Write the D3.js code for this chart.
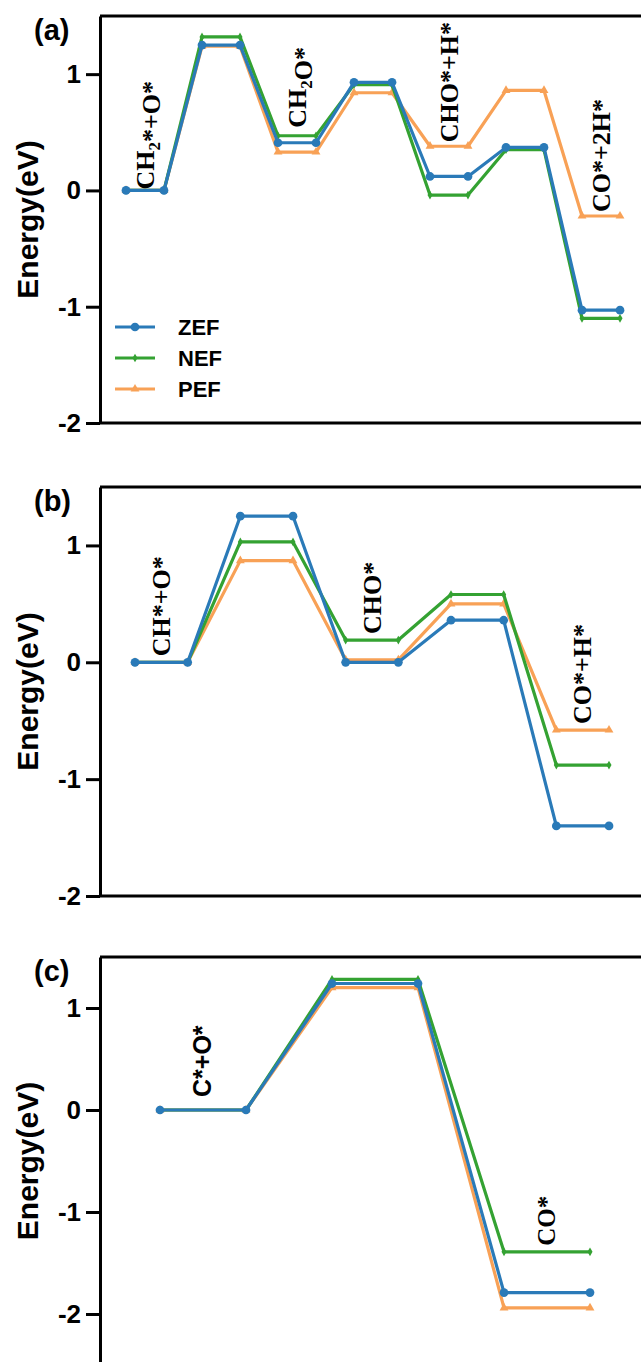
<!DOCTYPE html>
<html><head><meta charset="utf-8">
<script src="https://cdn.jsdelivr.net/npm/d3@7"></script>
<style>body{margin:0;background:#fff}svg{display:block}</style>
</head><body>
<svg id="chart" width="641" height="1362"></svg>
<script>
// ---------- data ----------
const seriesNames = ["ZEF", "NEF", "PEF"];
const yTicks = [-2, -1, 0, 1];
const panelTags = ["(a)", "(b)", "(c)"];

const stepsA = ["CH2*+O*", "", "CH2O*", "", "CHO*+H*", "", "CO*+2H*"];
const zefA = [0, 1.25, 0.41, 0.93, 0.12, 0.37, -1.03];
const nefA = [0, 1.32, 0.47, 0.91, -0.04, 0.35, -1.10];
const pefA = [0, 1.24, 0.33, 0.84, 0.38, 0.86, -0.22];

const stepsB = ["CH*+O*", "", "CHO*", "", "CO*+H*"];
const zefB = [0, 1.25, 0.00, 0.36, -1.40];
const nefB = [0, 1.03, 0.19, 0.58, -0.88];
const pefB = [0, 0.87, 0.02, 0.50, -0.58];

const stepsC = ["C*+O*", "", "CO*"];
const zefC = [0, 1.24, -1.79];
const nefC = [0, 1.28, -1.39];
const pefC = [0, 1.20, -1.94];

// ---------- style ----------
const colors = {ZEF: "#2a7ab8", NEF: "#34a232", PEF: "#f8a156"};
const symbols = {ZEF: d3.symbolCircle, NEF: d3.symbolDiamond, PEF: d3.symbolTriangle};
const symSize = {ZEF: 60, NEF: 22, PEF: 34};
const SANS = "'Liberation Sans', Arial, sans-serif";
const SERIF = "'Liberation Serif', 'Times New Roman', serif";

const svg = d3.select("#chart");

function addLabel(g, str, x, y, fontFam, size) {
  const t = g.append("text")
    .attr("transform", `translate(${x},${y}) rotate(-90)`)
    .attr("text-anchor", "start")
    .attr("font-family", fontFam)
    .attr("font-weight", "bold")
    .attr("font-size", size)
    .attr("fill", "#000");
  // digits directly after a letter are subscripts (CH2)
  let buf = "";
  const flush = () => { if (buf) { t.append("tspan").text(buf); buf = ""; } };
  for (let i = 0; i < str.length; i++) {
    const ch = str[i];
    if (/\d/.test(ch) && i > 0 && /[A-Za-z]/.test(str[i - 1])) {
      flush();
      t.append("tspan").attr("dy", size * 0.25).attr("font-size", size * 0.65).text(ch);
      t.append("tspan").attr("dy", -size * 0.25).text("");
    } else buf += ch;
  }
  flush();
}

function drawPanel(cfg) {
  const g = svg.append("g");
  const nPts = cfg.steps.length * 2;
  const x = d3.scaleLinear().domain([0, nPts - 1]).range([cfg.x0, cfg.x1]);
  const y = d3.scaleLinear().domain(cfg.yDomain).range([cfg.yBottom, cfg.yTop]);
  const axisX = 100;

  // frame: top and bottom lines
  g.append("line").attr("x1", axisX).attr("x2", 660).attr("y1", cfg.yTop).attr("y2", cfg.yTop)
    .attr("stroke", "#000").attr("stroke-width", 3);
  g.append("line").attr("x1", axisX).attr("x2", 660).attr("y1", cfg.yBottom).attr("y2", cfg.yBottom)
    .attr("stroke", "#000").attr("stroke-width", 3);

  // y axis
  const ax = g.append("g").attr("transform", `translate(${axisX},0)`)
    .call(d3.axisLeft(y).tickValues(yTicks).tickSize(14).tickSizeOuter(0).tickPadding(5)
      .tickFormat(d => String(d)));
  ax.select(".domain").attr("stroke-width", 3);
  ax.selectAll(".tick line").attr("stroke-width", 3);
  ax.selectAll(".tick text").attr("font-family", SANS).attr("font-weight", "bold")
    .attr("font-size", 26).attr("fill", "#000");

  // y title
  g.append("text")
    .attr("transform", `translate(38,${(cfg.yTop + cfg.yBottom) / 2}) rotate(-90)`)
    .attr("text-anchor", "middle")
    .attr("font-family", SANS).attr("font-weight", "bold").attr("font-size", 30)
    .text("Energy(eV)");

  // panel tag
  g.append("text").attr("x", 34).attr("y", cfg.yTop + 24)
    .attr("font-family", SANS).attr("font-weight", "bold").attr("font-size", 29)
    .text(cfg.tag);

  // series (PEF first so ZEF sits on top)
  const order = ["PEF", "NEF", "ZEF"];
  order.forEach(name => {
    const vals = cfg.values[name];
    const pts = [];
    vals.forEach((v, i) => { pts.push([2 * i, v]); pts.push([2 * i + 1, v]); });
    g.append("path")
      .attr("d", d3.line().x(d => x(d[0])).y(d => y(d[1]))(pts))
      .attr("fill", "none").attr("stroke", colors[name]).attr("stroke-width", 3.2)
      .attr("stroke-linejoin", "round");
    g.selectAll(null).data(pts).enter().append("path")
      .attr("transform", d => `translate(${x(d[0])},${y(d[1])})`)
      .attr("d", d3.symbol().type(symbols[name]).size(symSize[name]))
      .attr("fill", colors[name]);
  });

  // step labels
  cfg.steps.forEach((s, i) => {
    if (!s) return;
    const top = Math.max(...seriesNames.map(n => cfg.values[n][i]));
    const fam = cfg.labelFonts[i] === "sans" ? SANS : SERIF;
    const size = cfg.labelSizes[i];
    addLabel(g, s, x(2 * i + 0.5) + size * 0.33, y(top) - cfg.labelGaps[i], fam, size);
  });

  // legend
  if (cfg.legend) {
    const ly = [327, 358, 389];
    seriesNames.forEach((name, k) => {
      g.append("line").attr("x1", 115).attr("x2", 155).attr("y1", ly[k]).attr("y2", ly[k])
        .attr("stroke", colors[name]).attr("stroke-width", 3.2);
      g.append("path").attr("transform", `translate(135,${ly[k]})`)
        .attr("d", d3.symbol().type(symbols[name]).size(symSize[name]))
        .attr("fill", colors[name]);
      g.append("text").attr("x", 178).attr("y", ly[k] + 8)
        .attr("font-family", SANS).attr("font-weight", "bold").attr("font-size", 22)
        .text(name);
    });
  }
}

drawPanel({
  tag: panelTags[0], steps: stepsA, values: {ZEF: zefA, NEF: nefA, PEF: pefA},
  yDomain: [-2, 1.5], yTop: 16, yBottom: 423, x0: 126, x1: 620,
  labelGaps: [1, 0, 8, 0, 4, 0, 4], labelFonts: ["serif", "", "serif", "", "serif", "", "serif"],
  labelSizes: [26, 0, 26, 0, 26, 0, 26],
  legend: true
});
drawPanel({
  tag: panelTags[1], steps: stepsB, values: {ZEF: zefB, NEF: nefB, PEF: pefB},
  yDomain: [-2, 1.5], yTop: 487, yBottom: 896, x0: 135, x1: 609,
  labelGaps: [6, 0, 6, 0, 6], labelFonts: ["serif", "", "serif", "", "serif"],
  labelSizes: [26, 0, 26, 0, 26]
});
drawPanel({
  tag: panelTags[2], steps: stepsC, values: {ZEF: zefC, NEF: nefC, PEF: pefC},
  yDomain: [-2.5, 1.5], yTop: 957, yBottom: 1365, x0: 160, x1: 590,
  labelGaps: [13, 0, 6], labelFonts: ["sans", "", "serif"],
  labelSizes: [25, 0, 25]
});
</script>
</body></html>
